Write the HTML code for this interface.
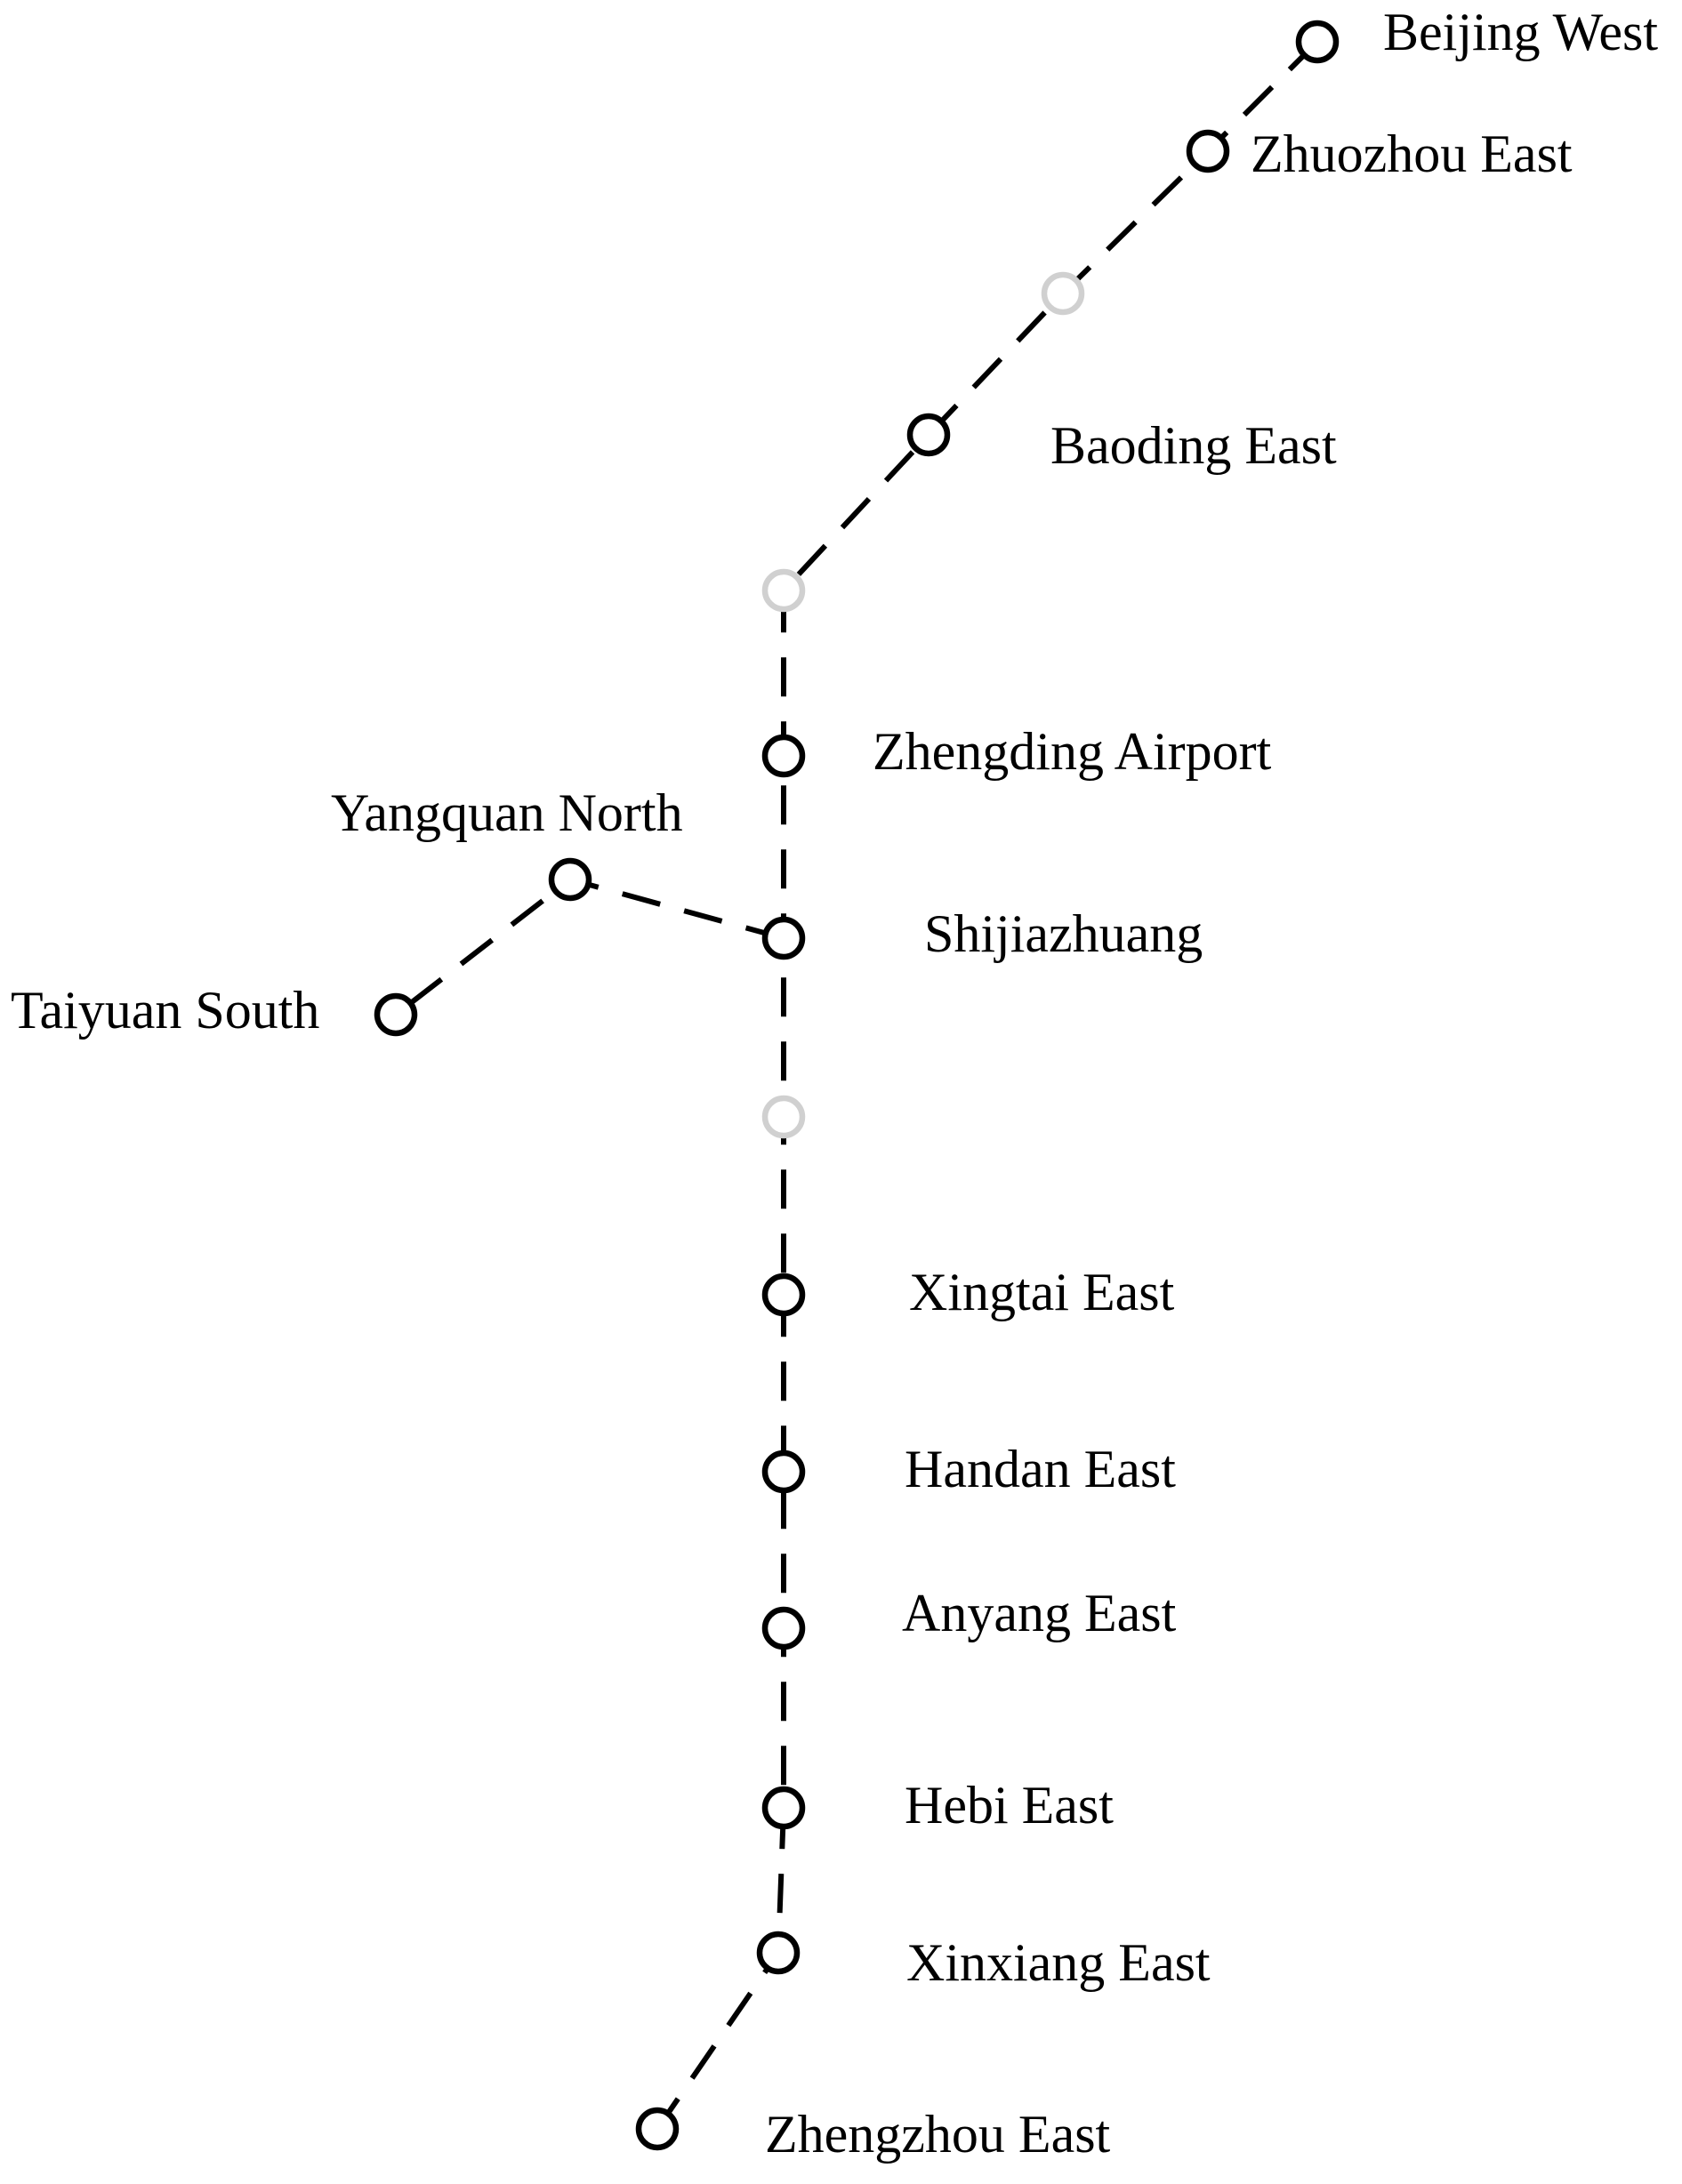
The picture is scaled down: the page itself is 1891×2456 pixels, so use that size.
<!DOCTYPE html>
<html><head><meta charset="utf-8"><style>html,body{margin:0;padding:0;background:#fff}svg{display:block}</style></head>
<body>
<svg width="1891" height="2456" viewBox="0 0 1891 2456" xmlns="http://www.w3.org/2000/svg">
<g transform="translate(3,3)">
<g stroke="#000" stroke-width="6" stroke-dasharray="44 28" fill="none">
<polyline points="1478,44 1355,167 1192,327 1041,486 878,661 878,847 878,1052 878,1253 878,1453 878,1652 878,1828 878,2030 872,2193 736,2391"/>
<polyline points="878,1052 638,986 442,1138"/>
</g>
<g fill="#fff" stroke-width="6.5">
<circle cx="1478" cy="44" r="21" stroke="#000"/>
<circle cx="1355" cy="167" r="21" stroke="#000"/>
<circle cx="1192" cy="327" r="21" stroke="#d0d0d0"/>
<circle cx="1041" cy="486" r="21" stroke="#000"/>
<circle cx="878" cy="661" r="21" stroke="#d0d0d0"/>
<circle cx="878" cy="847" r="21" stroke="#000"/>
<circle cx="878" cy="1052" r="21" stroke="#000"/>
<circle cx="638" cy="986" r="21" stroke="#000"/>
<circle cx="442" cy="1138" r="21" stroke="#000"/>
<circle cx="878" cy="1253" r="21" stroke="#d0d0d0"/>
<circle cx="878" cy="1453" r="21" stroke="#000"/>
<circle cx="878" cy="1652" r="21" stroke="#000"/>
<circle cx="878" cy="1828" r="21" stroke="#000"/>
<circle cx="878" cy="2030" r="21" stroke="#000"/>
<circle cx="872" cy="2193" r="21" stroke="#000"/>
<circle cx="736" cy="2391" r="21" stroke="#000"/>
</g>
</g>
<g font-family="'Liberation Serif', serif" font-size="60" fill="#000">
<text x="1555" y="56">Beijing West</text>
<text x="1406" y="193">Zhuozhou East</text>
<text x="1181" y="521">Baoding East</text>
<text x="981" y="865">Zhengding Airport</text>
<text x="372" y="934">Yangquan North</text>
<text x="1039" y="1070">Shijiazhuang</text>
<text x="12" y="1156">Taiyuan South</text>
<text x="1022" y="1473">Xingtai East</text>
<text x="1017" y="1672">Handan East</text>
<text x="1014" y="1834">Anyang East</text>
<text x="1017" y="2050">Hebi East</text>
<text x="1019" y="2227">Xinxiang East</text>
<text x="860" y="2420">Zhengzhou East</text>
</g>
</svg>
</body></html>
